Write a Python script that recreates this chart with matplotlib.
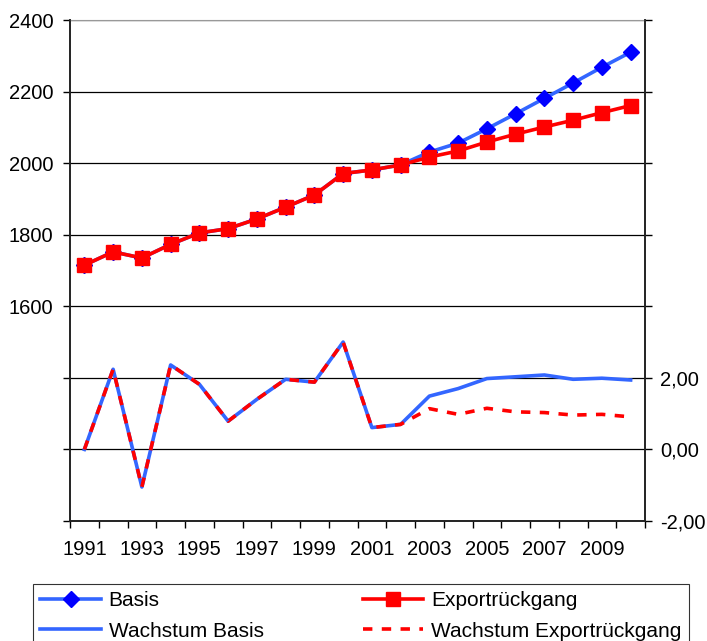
import matplotlib
matplotlib.use("Agg")
import matplotlib.pyplot as plt
from matplotlib.ticker import FixedLocator, FuncFormatter
import numpy as np

years = list(range(1991, 2011))
basis = [1715, 1752, 1735, 1773, 1805, 1817, 1844, 1877, 1911, 1971,
         1981, 1995, 2031, 2056, 2096, 2138, 2181, 2224, 2268, 2310]
export = [1715, 1752, 1735, 1773, 1805, 1817, 1844, 1877, 1911, 1971,
          1981, 1995, 2017, 2034, 2059, 2081, 2101, 2120, 2141, 2161]
wachstum_basis = [0.00, 2.24, -1.05, 2.36, 1.82, 0.79, 1.40, 1.96, 1.88, 3.00,
                  0.61, 0.70, 1.49, 1.70, 1.98, 2.03, 2.08, 1.96, 1.99, 1.94]
wachstum_export = [0.00, 2.24, -1.05, 2.36, 1.82, 0.79, 1.40, 1.96, 1.88, 3.00,
                   0.61, 0.70, 1.14, 0.98, 1.15, 1.05, 1.03, 0.96, 0.98, 0.91]
labels = ["Basis", "Exportrückgang", "Wachstum Basis", "Wachstum Exportrückgang"]

plt.rcParams['font.family'] = ['Liberation Sans', 'DejaVu Sans']

fig = plt.figure(figsize=(7.07, 6.41), dpi=100)
ax = fig.add_axes([70/707, 1-521/641, 575/707, 501/641])
ax2 = ax.twinx()

x = np.arange(len(years))
blue_line = '#3366FF'
l1, = ax.plot(x, basis, color=blue_line, lw=2.6, marker='D', markersize=8.5,
              markerfacecolor='#0000FF', markeredgecolor='#0000FF', zorder=3)
l2, = ax.plot(x, export, color='#FF0000', lw=2.6, marker='s', markersize=10,
              markerfacecolor='#FF0000', markeredgecolor='#FF0000', zorder=4)
l3, = ax2.plot(x, wachstum_basis, color=blue_line, lw=2.6, zorder=3)
l4, = ax2.plot(x, wachstum_export, color='#FF0000', lw=2.6, linestyle=(0, (2.6, 2.6)), zorder=4)

ax.set_xlim(-0.5, len(years) - 0.5)
ax.set_ylim(1000, 2400)
ax2.set_ylim(-2, 12)

ax.yaxis.set_major_locator(FixedLocator(np.arange(1000, 2401, 200)))
ax.yaxis.set_major_formatter(FuncFormatter(lambda v, p: f"{int(v)}" if v >= 1600 else ""))
ax2.yaxis.set_major_locator(FixedLocator(np.arange(-2, 13, 2)))
ax2.yaxis.set_major_formatter(FuncFormatter(
    lambda v, p: (f"{v:.2f}".replace('.', ',')) if v <= 2 else ""))

ax.set_xticks(x[::2])
ax.set_xticklabels([str(y) for y in years[::2]])
ax.set_xticks(np.arange(-0.5, len(years), 1), minor=True)
ax.tick_params(axis='x', which='major', length=0, pad=14, labelsize=14.5)
ax.tick_params(axis='x', which='minor', length=5, width=1, direction='out')
ax.tick_params(axis='y', length=5, width=1, direction='out', pad=7, labelsize=14.5)
ax2.tick_params(axis='y', length=5, width=1, direction='out', pad=6, labelsize=14.5)

ax.grid(axis='y', color='black', lw=0.9)
ax.set_axisbelow(True)
for a in (ax, ax2):
    a.spines['top'].set_visible(False)
    for s in ('left', 'right', 'bottom'):
        a.spines[s].set_color('#222222')
        a.spines[s].set_linewidth(1.2)
ax.spines['top'].set_visible(True)
ax.spines['top'].set_color('#999999')

leg = fig.legend([l1, l3, l2, l4], [labels[0], labels[2], labels[1], labels[3]],
                 ncol=2, loc='upper left', bbox_to_anchor=(33/707, 1-584/641),
                 fontsize=15, frameon=True, fancybox=False,
                 edgecolor='black', handlelength=2.9, handletextpad=0.38,
                 columnspacing=4.75, borderaxespad=0, labelspacing=0.55, borderpad=0.35)
leg.get_frame().set_linewidth(0.8)

fig.savefig("out.png", dpi=100)
